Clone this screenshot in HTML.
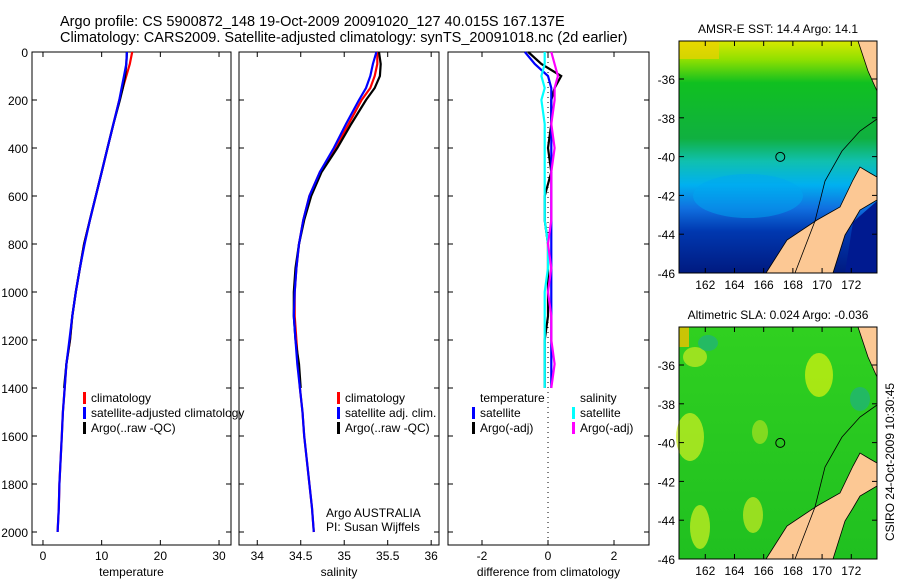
<!DOCTYPE html>
<html><head><meta charset="utf-8"><style>
body{margin:0;background:#fff;}
svg text{font-family:"Liberation Sans",sans-serif;}
</style></head><body>
<svg id="chart" width="900" height="580" viewBox="0 0 900 580" xmlns="http://www.w3.org/2000/svg">
<rect width="900" height="580" fill="#fff"/>
<text x="60" y="26" font-size="14.5">Argo profile: CS 5900872_148 19-Oct-2009 20091020_127 40.015S 167.137E</text>
<text x="60" y="42" font-size="14.5">Climatology: CARS2009. Satellite-adjusted climatology: synTS_20091018.nc (2d earlier)</text>
<g id="panels"></g>
<g id="maps"></g>
</svg>
<script>
// depth levels (dbar)
const depths = [0,50,100,150,200,300,400,500,600,700,800,900,1000,1100,1200,1300,1400,1500,1600,1700,1800,1900,2000];
// temperature
const tempClim = [15.2,14.8,14.2,13.6,13.0,12.0,11.0,10.0,9.0,8.0,7.0,6.3,5.6,5.0,4.6,4.0,3.7,3.4,3.2,3.0,2.8,2.7,2.5];
const tempSat  = [14.3,14.2,13.8,13.4,13.0,12.0,11.0,10.0,9.0,8.0,7.1,6.3,5.6,5.0,4.5,4.0,3.7,3.4,3.2,3.0,2.8,2.7,2.5];
const tempArgo = [14.3,14.2,14.0,13.6,13.1,12.0,11.0,10.0,9.0,8.0,7.0,6.3,5.6,5.0,4.6,4.0,3.6];
// salinity
const salClim = [35.38,35.38,35.35,35.3,35.2,35.05,34.9,34.72,34.6,34.53,34.48,34.45,34.43,34.43,34.45,34.47,34.49,34.52,34.54,34.57,34.6,34.63,34.65];
const salSat  = [35.37,35.33,35.3,35.25,35.17,35.02,34.88,34.72,34.6,34.53,34.48,34.45,34.43,34.42,34.44,34.46,34.49,34.52,34.54,34.57,34.6,34.63,34.65];
const salArgo = [35.4,35.42,35.41,35.35,35.25,35.08,34.92,34.74,34.62,34.54,34.48,34.44,34.42,34.42,34.44,34.48,34.5];
// differences from climatology
const diffTempSat  = [-0.7,-0.4,0.0,0.1,0.1,0.1,0.1,0.1,0.1,0.1,0.1,0.1,0.1,0.1,0.1,0.1,0.1];
const diffTempArgo = [-0.6,-0.2,0.4,0.2,0.1,0.1,0.0,0.1,-0.1,-0.1,0.0,0.0,0.0,0.0,-0.1,-0.1,-0.1];
const diffSalSat   = [-0.1,-0.1,-0.2,-0.1,-0.2,-0.1,-0.1,-0.1,-0.1,-0.1,0.0,0.0,-0.1,-0.1,-0.1,-0.1,-0.1];
const diffSalArgo  = [0.1,0.2,0.3,0.2,0.2,0.1,0.2,0.1,0.1,0.1,0.0,0.1,0.0,0.1,0.1,0.2,0.1];
const depthTicks = [0,200,400,600,800,1000,1200,1400,1600,1800,2000];
const tempTicks = [0,10,20,30];
const salTicks = [34,34.5,35,35.5,36];
const diffTicks = [-2,0,2];
const lonTicks = [162,164,166,168,170,172];
const latTicks = [-36,-38,-40,-42,-44,-46];

const NS="http://www.w3.org/2000/svg";
function mk(tag,attrs,parent){const e=document.createElementNS(NS,tag);for(const k in attrs)e.setAttribute(k,attrs[k]);parent.appendChild(e);return e;}
const yD = d => 52 + d*0.24;
const P = document.getElementById('panels');

function panel(name,x0,x1,xmin,xmax,ticks,label,showY){
  const sx = v => x0 + (v-xmin)/(xmax-xmin)*(x1-x0);
  const g = mk('g',{},P);
  
  
  const r = mk('rect',{x:x0,y:52,width:x1-x0,height:493,fill:'none',stroke:'#000','stroke-width':1},g);
  
  
  depthTicks.forEach(d=>{
    mk('line',{x1:x0,x2:x0+5,y1:yD(d),y2:yD(d),stroke:'#000'},g);
    mk('line',{x1:x1,x2:x1-5,y1:yD(d),y2:yD(d),stroke:'#000'},g);
    if(showY){const t=mk('text',{x:x0-4,y:yD(d)+5,'font-size':12,'text-anchor':'end'},g);t.textContent=d;
      
      }
  });
  ticks.forEach(v=>{
    mk('line',{x1:sx(v),x2:sx(v),y1:545,y2:540,stroke:'#000'},g);
    mk('line',{x1:sx(v),x2:sx(v),y1:52,y2:57,stroke:'#000'},g);
    const t=mk('text',{x:sx(v),y:560,'font-size':12,'text-anchor':'middle'},g);t.textContent=v;
    
    
  });
  const xl=mk('text',{x:(x0+x1)/2,y:576,'font-size':12,'text-anchor':'middle'},g);xl.textContent=label;
  
  
  return {g,sx};
}
function line(p,vals,color,name,w){
  const pts = vals.map((v,i)=>p.sx(v).toFixed(1)+','+yD(depths[i]).toFixed(1)).join(' ');
  const l=mk('polyline',{points:pts,fill:'none',stroke:color,'stroke-width':w||2.2},p.g);
  
  
}
function legend(p,x,y,items){
  items.forEach((it,i)=>{
    if(it[1]) mk('rect',{x:x,y:y+i*15-10,width:3,height:12,fill:it[1]},p.g);
    const t=mk('text',{x:x+8,y:y+i*15,'font-size':12},p.g);t.textContent=it[0];
    
    
  });
}
const p1 = panel('temperature-panel',32,231,-1.87,32.04,tempTicks,'temperature',true);
line(p1,tempClim,'#f00','temp-climatology-line');
line(p1,tempArgo,'#000','temp-argo-line');
line(p1,tempSat,'#00f','temp-satellite-line');
legend(p1,83,402,[['climatology','#f00'],['satellite-adjusted climatology','#00f'],['Argo(..raw -QC)','#000']]);

const p2 = panel('salinity-panel',239,439,33.79,36.09,salTicks,'salinity',false);
line(p2,salClim,'#f00','sal-climatology-line');
line(p2,salArgo,'#000','sal-argo-line');
line(p2,salSat,'#00f','sal-satellite-line');
legend(p2,337,402,[['climatology','#f00'],['satellite adj. clim.','#00f'],['Argo(..raw -QC)','#000']]);
const a1=mk('text',{x:326,y:517,'font-size':12},p2.g);a1.textContent='Argo AUSTRALIA';


const a2=mk('text',{x:326,y:531,'font-size':12},p2.g);a2.textContent='PI: Susan Wijffels';



const p3 = panel('difference-panel',448,649,-3.03,3.06,diffTicks,'difference from climatology',false);
mk('line',{x1:p3.sx(0),x2:p3.sx(0),y1:52,y2:545,stroke:'#000','stroke-dasharray':'1,4'},p3.g);
line(p3,diffTempArgo,'#000','diff-temp-argo-line');
line(p3,diffTempSat,'#00f','diff-temp-satellite-line');
line(p3,diffSalSat,'#0ff','diff-sal-satellite-line');
line(p3,diffSalArgo,'#f0f','diff-sal-argo-line');
legend(p3,472,402,[['temperature',null],['satellite','#00f'],['Argo(-adj)','#000']]);
legend(p3,572,402,[['salinity',null],['satellite','#0ff'],['Argo(-adj)','#f0f']]);

// maps
const M = document.getElementById('maps');
const mlon = v => 679 + (v-160.2)*14.6;
const defs = mk('defs',{},document.getElementById('chart'));
const g1=mk('linearGradient',{id:'sst',x1:0,y1:0,x2:0,y2:1},defs);
[[0,'#d8e800'],[0.08,'#90e000'],[0.18,'#10c020'],[0.42,'#10b040'],[0.52,'#10c0b0'],[0.62,'#00b0f0'],[0.72,'#1070e0'],[0.82,'#0038b0'],[1,'#001a80']].forEach(s=>mk('stop',{offset:s[0],'stop-color':s[1]},g1));
const g2=mk('linearGradient',{id:'sla',x1:0,y1:0,x2:0,y2:1},defs);
[[0,'#30d020'],[1,'#20c020']].forEach(s=>mk('stop',{offset:s[0],'stop-color':s[1]},g2));
const landPts=[[766,232],[787,199],[817,179],[840,166],[853,139],[860,126],[870,132],[877,136],[877,159],[860,169],[853,181],[845,194],[833,232]];
const islePts=[[858,0],[877,0],[877,50],[868,30]];
function drawMap(name,y0,fill,title){
  const lat = v => y0 + 38 + (-36 - v)*19.4;
  const g=mk('g',{},M);
  
  
  const bg=mk('rect',{x:679,y:y0,width:198,height:232,fill:'url(#'+fill+')'},g);
  
  
  if(name==='sst-map'){
    mk('rect',{x:679,y:y0,width:40,height:18,fill:'#f0d000',opacity:0.7},g);
    mk('ellipse',{cx:748,cy:y0+155,rx:55,ry:22,fill:'#00a8f0',opacity:0.5},g);
    mk('polygon',{points:[[845,y0+232],[853,y0+181],[877,y0+160],[877,y0+232]].map(p=>p.join(',')).join(' '),fill:'#001a90'},g);
  } else {
    [[700,y0+200,10,22,'#c8ee20'],[690,y0+110,14,24,'#c8ee20'],[819,y0+48,14,22,'#d0f010'],[753,y0+188,10,18,'#c0e820'],[695,y0+30,12,10,'#c0e820'],[760,y0+105,8,12,'#a0e020']].forEach(b=>mk('ellipse',{cx:b[0],cy:b[1],rx:b[2],ry:b[3],fill:b[4],opacity:0.75},g));
    [[708,y0+16,10,8],[860,y0+72,10,12]].forEach(b=>mk('ellipse',{cx:b[0],cy:b[1],rx:b[2],ry:b[3],fill:'#20b080',opacity:0.7},g));
    mk('rect',{x:679,y:y0,width:10,height:20,fill:'#f0c000',opacity:0.8},g);
  }
  const land=mk('polygon',{points:landPts.map(p=>p[0]+','+(p[1]+y0)).join(' '),fill:'#fcc894',stroke:'#000','stroke-width':0.8},g);
  
  
  mk('polygon',{points:islePts.map(p=>p[0]+','+(p[1]+y0)).join(' '),fill:'#fcc894',stroke:'#000','stroke-width':0.8},g);
  mk('polyline',{points:[[795,232],[815,180],[825,140],[842,110],[860,90],[877,78]].map(p=>p[0]+','+(p[1]+y0)).join(' '),fill:'none',stroke:'#000','stroke-width':0.8},g);
  const c=mk('circle',{cx:mlon(167.137),cy:lat(-40.015),r:4.5,fill:'none',stroke:'#000'},g);
  
  
  mk('rect',{x:679,y:y0,width:198,height:232,fill:'none',stroke:'#000'},g);
  latTicks.forEach(v=>{
    mk('line',{x1:679,x2:684,y1:lat(v),y2:lat(v),stroke:'#000'},g);
    mk('line',{x1:877,x2:872,y1:lat(v),y2:lat(v),stroke:'#000'},g);
    const t=mk('text',{x:675,y:lat(v)+5,'font-size':12,'text-anchor':'end'},g);t.textContent=v;
    
    
  });
  lonTicks.forEach(v=>{
    mk('line',{x1:mlon(v),x2:mlon(v),y1:y0+232,y2:y0+227,stroke:'#000'},g);
    mk('line',{x1:mlon(v),x2:mlon(v),y1:y0,y2:y0+5,stroke:'#000'},g);
    const t=mk('text',{x:mlon(v),y:y0+248,'font-size':12,'text-anchor':'middle'},g);t.textContent=v;
    
    
  });
  const tt=mk('text',{x:778,y:y0-8,'font-size':12,'text-anchor':'middle'},g);tt.textContent=title;
  
  
}
drawMap('sst-map',41,'sst','AMSR-E SST: 14.4 Argo: 14.1');
drawMap('sla-map',327,'sla','Altimetric SLA: 0.024 Argo: -0.036');
const cs=mk('text',{x:0,y:0,'font-size':12,'text-anchor':'middle',transform:'translate(894,462) rotate(-90)'},M);
cs.textContent='CSIRO 24-Oct-2009 10:30:45';


</script>
</body></html>
